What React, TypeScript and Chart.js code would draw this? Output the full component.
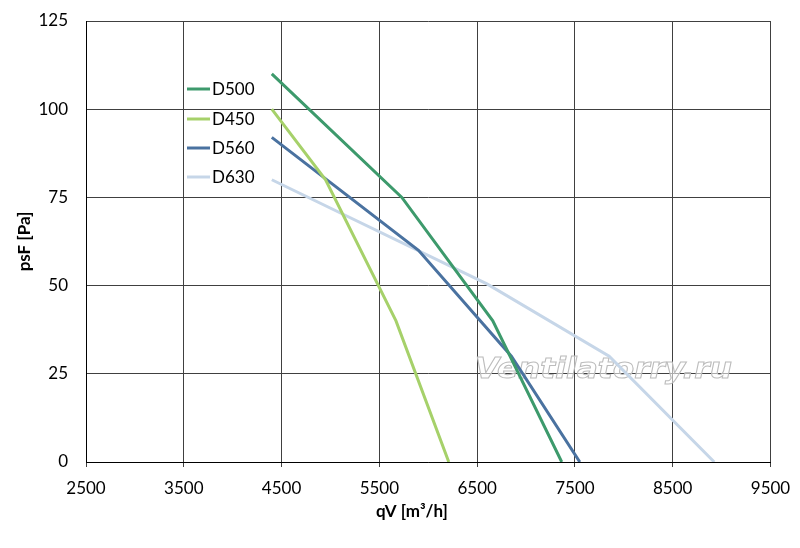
import { Chart, registerables } from 'chart.js';
import { useEffect, useRef } from 'react';

Chart.register(...registerables);

// air flow qV [m3/h] and static pressure psF [Pa]
const qvD500 = [4400, 5730, 6660, 7365];
const psD500 = [110, 75, 40, 0];
const qvD450 = [4400, 4950, 5670, 6210];
const psD450 = [100, 80, 40, 0];
const qvD560 = [4400, 5900, 6850, 7550];
const psD560 = [92, 60, 30, 0];
const qvD630 = [4400, 6600, 7850, 8925];
const psD630 = [80, 50.5, 30, 0];

const seriesNames = ['D500', 'D450', 'D560', 'D630'];
const seriesColors = ['#3d9a6c', '#a6d16a', '#4a72a0', '#c6d6e8'];

const xTicks = [2500, 3500, 4500, 5500, 6500, 7500, 8500, 9500];
const yTicks = [0, 25, 50, 75, 100, 125];

const FONT = 'Lato, "Open Sans", sans-serif';

const toPoints = (qv: number[], ps: number[]) => qv.map((x, i) => ({ x, y: ps[i] }));

const decorPlugin = {
  id: 'decor',
  beforeDatasetsDraw(chart: any) {
    // watermark
    const { ctx } = chart;
    ctx.save();
    ctx.font = 'italic bold 28px "DejaVu Sans"';
    const text = 'Ventilatorry.ru';
    const w = ctx.measureText(text).width;
    ctx.translate(475, 378);
    ctx.scale(257 / w, 1);
    ctx.fillStyle = 'rgba(255,255,255,0.55)';
    ctx.fillText(text, 0, 0);
    ctx.strokeStyle = '#bcbcbc';
    ctx.lineWidth = 1;
    ctx.strokeText(text, 0, 0);
    ctx.restore();
  },
  afterDraw(chart: any) {
    const { ctx, chartArea } = chart;
    ctx.save();
    // legend inside plot
    const left = chartArea.left + 101;
    const rows = [89, 119, 148, 177];
    ctx.font = `17px ${FONT}`;
    ctx.textBaseline = 'middle';
    ctx.textAlign = 'left';
    seriesNames.forEach((name, i) => {
      ctx.strokeStyle = seriesColors[i];
      ctx.lineWidth = 3;
      ctx.beginPath();
      ctx.moveTo(left, rows[i]);
      ctx.lineTo(left + 23, rows[i]);
      ctx.stroke();
      ctx.fillStyle = '#000';
      ctx.fillText(name, left + 25, rows[i] + 1);
    });
    // axis titles
    ctx.font = `bold 17px ${FONT}`;
    ctx.textAlign = 'center';
    ctx.fillText('qV [m³/h]', 412, 512);
    ctx.translate(25, (chartArea.top + chartArea.bottom) / 2);
    ctx.rotate(-Math.PI / 2);
    ctx.fillText('psF [Pa]', 0, 0);
    ctx.restore();
  },
};

const App = () => {
  const ref = useRef<HTMLCanvasElement>(null);

  useEffect(() => {
    document.body.style.margin = '0';
    if (ref.current == null) return () => {};
    const data = [
      toPoints(qvD500, psD500),
      toPoints(qvD450, psD450),
      toPoints(qvD560, psD560),
      toPoints(qvD630, psD630),
    ];
    const chart = new Chart(ref.current, {
      type: 'line',
      data: {
        datasets: seriesNames.map((name, i) => ({
          label: name,
          data: data[i],
          borderColor: seriesColors[i],
          backgroundColor: seriesColors[i],
          borderWidth: 3,
          pointRadius: 0,
          tension: 0,
        })),
      },
      options: {
        animation: false,
        responsive: true,
        maintainAspectRatio: false,
        layout: { padding: { top: 21, right: 29.5, left: 0, bottom: 0 } },
        plugins: {
          legend: { display: false },
          tooltip: { enabled: false },
        },
        scales: {
          x: {
            type: 'linear',
            min: 2500,
            max: 9500,
            afterBuildTicks: (scale: any) => {
              scale.ticks = xTicks.map((value) => ({ value }));
            },
            afterFit: (scale: any) => {
              scale.height = 86;
              scale.paddingLeft = 0;
              scale.paddingRight = 0;
            },
            ticks: {
              color: '#000',
              font: { family: FONT, size: 17 },
              padding: 11,
              callback: (v: any) => String(v),
            },
            grid: { color: '#404040', lineWidth: 1, tickLength: 5, drawTicks: true },
            border: { color: '#000', width: 1 },
          },
          y: {
            type: 'linear',
            min: 0,
            max: 125,
            afterBuildTicks: (scale: any) => {
              scale.ticks = yTicks.map((value) => ({ value }));
            },
            afterFit: (scale: any) => {
              scale.width = 86;
              scale.paddingTop = 0;
              scale.paddingBottom = 0;
            },
            ticks: {
              color: '#000',
              font: { family: FONT, size: 17 },
              padding: 18,
              callback: (v: any) => String(v),
            },
            grid: { color: '#404040', lineWidth: 1, drawTicks: false },
            border: { color: '#000', width: 1 },
          },
        },
      },
      plugins: [decorPlugin],
    });
    return () => {
      chart.destroy();
    };
  }, []);

  return (
    <div style={{ width: 800, height: 548, position: 'relative' }}>
      <canvas ref={ref} />
    </div>
  );
};

export default App;
